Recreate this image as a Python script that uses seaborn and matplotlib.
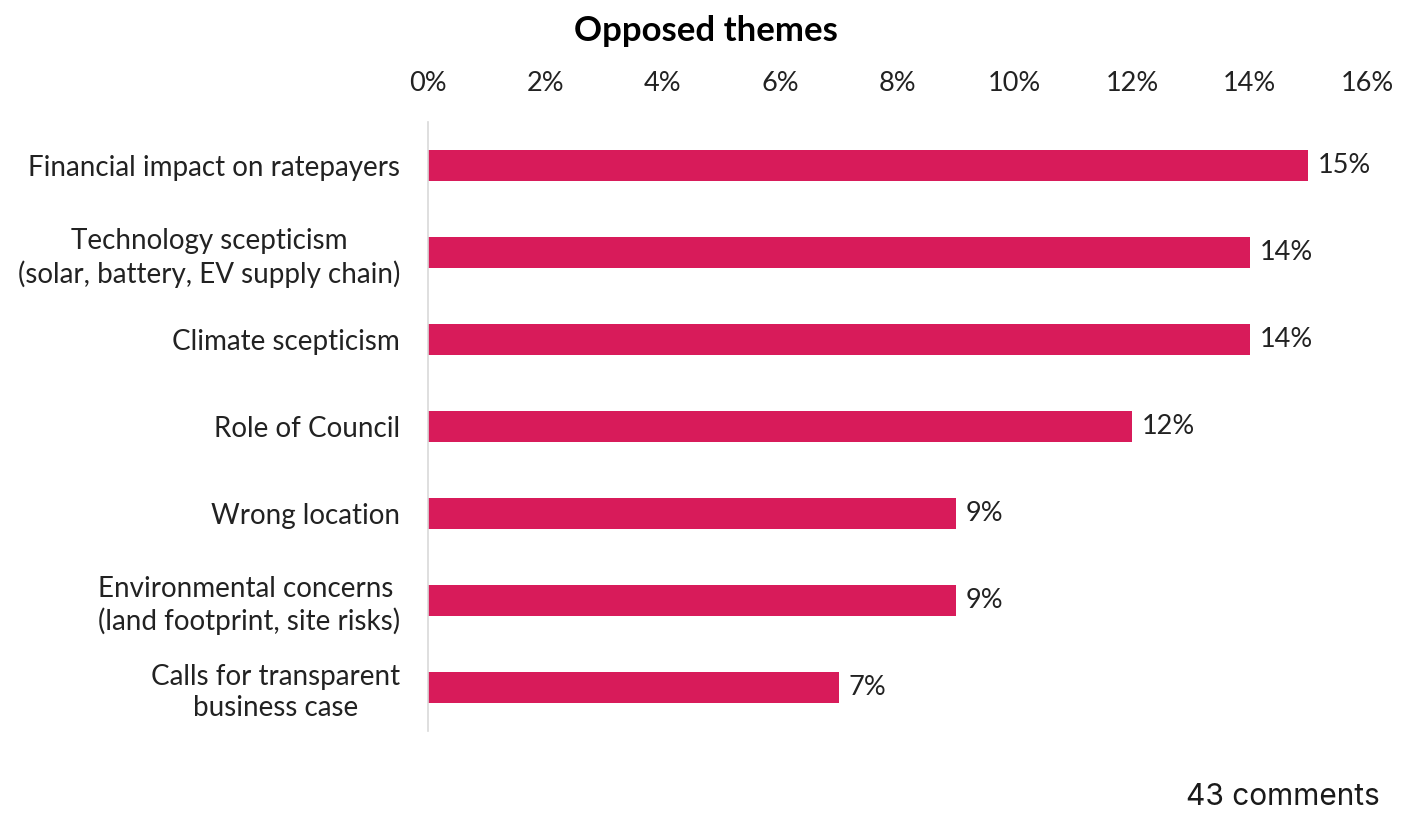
import matplotlib
matplotlib.use("Agg")
import matplotlib.pyplot as plt
import seaborn as sns
import pandas as pd
from matplotlib.ticker import FuncFormatter

themes = [
    "Financial impact on ratepayers",
    "Technology scepticism\n(solar, battery, EV supply chain)",
    "Climate scepticism",
    "Role of Council",
    "Wrong location",
    "Environmental concerns \n(land footprint, site risks)",
    "Calls for transparent\nbusiness case",
]
shares = [15, 14, 14, 12, 9, 9, 7]
x_ticks = [0, 2, 4, 6, 8, 10, 12, 14, 16]
footnote = "43 comments"
title = "Opposed themes"

sns.set_theme(style="white")
plt.rcParams["font.family"] = ["Lato", "DejaVu Sans"]

df = pd.DataFrame({"theme": themes, "share": shares})

fig = plt.figure(figsize=(14.11, 8.14), dpi=100)
ax = fig.add_axes([0.3033, 0.102, 0.6655, 0.748])

bar_color = "#D81B5A"
text_color = "#222222"
sns.barplot(data=df, x="share", y="theme", orient="h", color=bar_color,
            width=0.36, saturation=1, ax=ax, edgecolor="none")

ax.set_xlim(0, 16)
ax.set_ylim(len(themes) - 0.5, -0.5)
ax.set_xticks(x_ticks)
ax.xaxis.set_major_formatter(FuncFormatter(lambda v, p: f"{v:.0f}%"))
ax.xaxis.tick_top()
ax.tick_params(axis="x", length=0, labelsize=19.5, colors=text_color, pad=19)
ax.tick_params(axis="y", length=0, labelsize=20, colors=text_color, pad=20)
for lbl in ax.get_yticklabels():
    lbl.set_multialignment("center")
    lbl.set_linespacing(1.25)
ax.set_xlabel("")
ax.set_ylabel("")

for side in ["top", "right", "bottom"]:
    ax.spines[side].set_visible(False)
ax.spines["left"].set_color("#d9d9d9")
ax.spines["left"].set_linewidth(1.2)

for i, v in enumerate(shares):
    ax.annotate(f"{v}%", xy=(v, i), xytext=(7, 0), textcoords="offset points",
                va="center", ha="left", fontsize=19.5, color=text_color)

fig.text(0.5, 0.962, title, ha="center", va="center", fontsize=25,
         fontweight="bold", color="#000000")
fig.text(0.978, 0.011, footnote, ha="right", va="baseline", fontsize=21.5,
         color="#1a1a1a", family=["Inter", "DejaVu Sans"])

fig.savefig("out.png", dpi=100)
